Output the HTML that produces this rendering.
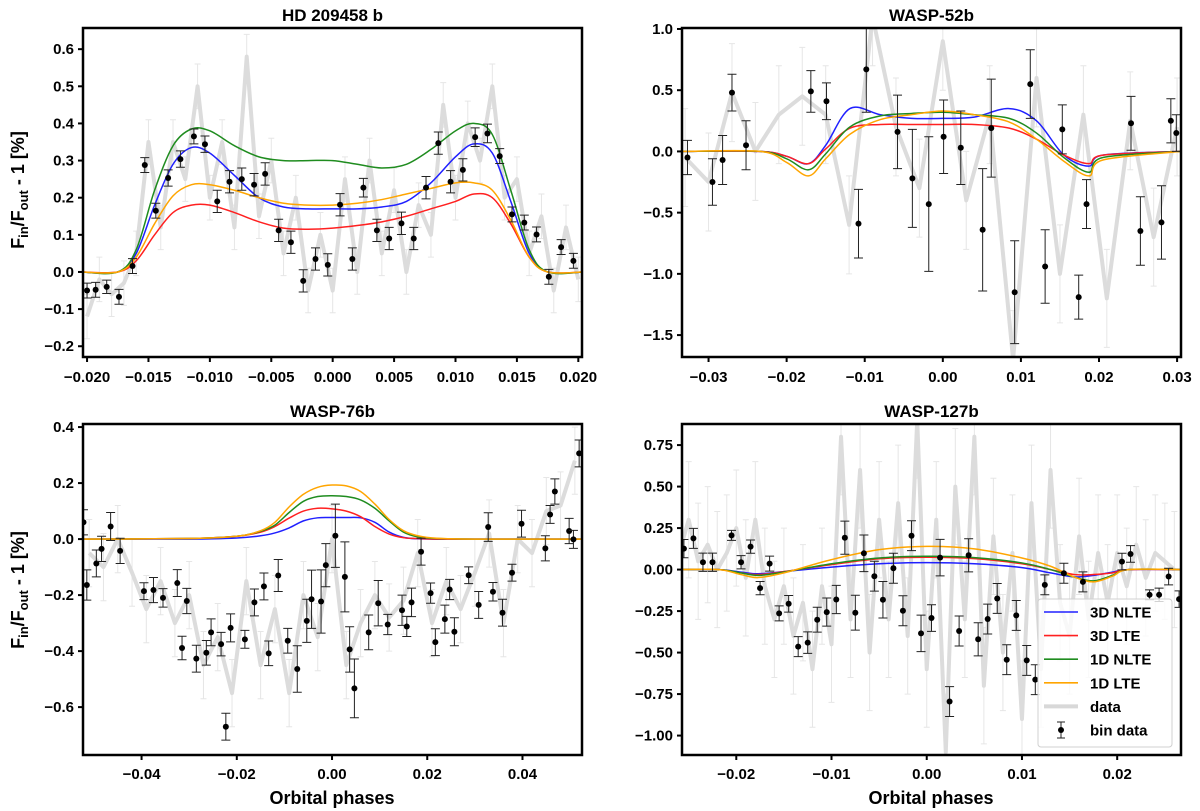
<!DOCTYPE html>
<html><head><meta charset="utf-8">
<style>
html,body{margin:0;padding:0;background:#fff;}
svg{display:block;font-family:"Liberation Sans","DejaVu Sans",sans-serif;}
</style></head>
<body>
<svg id="fig" width="1200" height="811" viewBox="0 0 1200 811" xmlns="http://www.w3.org/2000/svg"></svg>
<script>
// ---------- Panel 1: HD 209458 b ----------
const p1BinPhase=[-0.0200,-0.0193,-0.0184,-0.0174,-0.0163,-0.0153,-0.0144,-0.0134,-0.0124,-0.0113,-0.0104,-0.0094,-0.0084,-0.0074,-0.0064,-0.0055,-0.0044,-0.0034,-0.0024,-0.0014,-0.0004,0.0006,0.0016,0.0025,0.0036,0.0046,0.0056,0.0066,0.0076,0.0086,0.0096,0.0106,0.0116,0.0126,0.0136,0.0146,0.0156,0.0166,0.0176,0.0186,0.0196];
const p1BinVal=[-0.05,-0.048,-0.04,-0.067,0.016,0.288,0.165,0.253,0.304,0.365,0.344,0.19,0.243,0.25,0.235,0.264,0.112,0.08,-0.024,0.035,0.019,0.181,0.035,0.227,0.112,0.09,0.131,0.09,0.227,0.347,0.243,0.275,0.363,0.373,0.312,0.155,0.133,0.101,-0.013,0.067,0.03];
const p1BinErr=[0.02,0.02,0.018,0.02,0.02,0.02,0.02,0.022,0.022,0.02,0.022,0.03,0.03,0.03,0.03,0.03,0.03,0.03,0.03,0.03,0.03,0.03,0.03,0.025,0.03,0.03,0.03,0.03,0.03,0.03,0.03,0.03,0.025,0.025,0.02,0.02,0.02,0.02,0.02,0.02,0.02];
const p1GrayPhase=[-0.020,-0.019,-0.018,-0.017,-0.016,-0.015,-0.014,-0.013,-0.012,-0.011,-0.010,-0.009,-0.008,-0.007,-0.006,-0.005,-0.004,-0.003,-0.002,-0.001,0,0.001,0.002,0.003,0.004,0.005,0.006,0.007,0.008,0.009,0.010,0.011,0.012,0.013,0.014,0.015,0.016,0.017,0.018,0.019,0.020];
const p1GrayVal=[-0.12,-0.02,-0.06,-0.03,0.05,0.35,0.12,0.35,0.25,0.5,0.2,0.35,0.12,0.58,0.15,0.3,0.05,0.2,-0.05,0.1,-0.05,0.25,0.0,0.3,0.05,0.22,0.0,0.18,0.1,0.45,0.2,0.4,0.3,0.5,0.2,0.25,0.05,0.15,-0.05,0.12,-0.02];
const p1ModPhase=[-0.0205,-0.0175,-0.016,-0.0145,-0.013,-0.0115,-0.01,-0.008,-0.006,-0.004,-0.002,0,0.002,0.004,0.006,0.008,0.01,0.0115,0.013,0.0145,0.016,0.0175,0.0205];
const p1Green=[0,0,0.06,0.22,0.34,0.385,0.38,0.34,0.31,0.30,0.30,0.30,0.29,0.28,0.29,0.33,0.38,0.40,0.37,0.22,0.06,0,0];
const p1Blue=[0,0,0.05,0.18,0.29,0.335,0.32,0.26,0.2,0.175,0.17,0.17,0.17,0.175,0.19,0.24,0.31,0.345,0.32,0.19,0.05,0,0];
const p1Orange=[0,0,0.04,0.13,0.205,0.235,0.235,0.22,0.2,0.185,0.18,0.18,0.185,0.195,0.21,0.225,0.24,0.24,0.22,0.14,0.04,0,0];
const p1Red=[0,0,0.03,0.1,0.16,0.18,0.18,0.16,0.135,0.118,0.115,0.118,0.125,0.135,0.15,0.17,0.19,0.21,0.2,0.13,0.04,0,0];
const p1XTicks=[-0.020,-0.015,-0.010,-0.005,0.000,0.005,0.010,0.015,0.020];
const p1XLabels=["−0.020","−0.015","−0.010","−0.005","0.000","0.005","0.010","0.015","0.020"];
const p1YTicks=[-0.2,-0.1,0,0.1,0.2,0.3,0.4,0.5,0.6];
const p1YLabels=["−0.2","−0.1","0.0","0.1","0.2","0.3","0.4","0.5","0.6"];

// ---------- Panel 2: WASP-52b ----------
const p2BinPhase=[-0.0327,-0.0295,-0.0282,-0.0270,-0.0252,-0.0169,-0.0149,-0.0108,-0.0098,-0.0058,-0.0039,-0.0018,0.0001,0.0023,0.0051,0.0062,0.0092,0.0112,0.0131,0.0153,0.0174,0.0184,0.0241,0.0253,0.0280,0.0292,0.0299];
const p2BinVal=[-0.05,-0.25,-0.07,0.48,0.05,0.49,0.41,-0.59,0.67,0.16,-0.22,-0.43,0.12,0.03,-0.64,0.19,-1.15,0.55,-0.94,0.18,-1.19,-0.43,0.23,-0.65,-0.58,0.25,0.15];
const p2BinErr=[0.14,0.19,0.2,0.15,0.2,0.17,0.15,0.28,0.35,0.3,0.4,0.55,0.3,0.3,0.5,0.4,0.42,0.28,0.3,0.2,0.18,0.2,0.22,0.28,0.3,0.18,0.15];
const p2GrayPhase=[-0.033,-0.030,-0.027,-0.024,-0.021,-0.018,-0.015,-0.012,-0.009,-0.006,-0.003,0,0.003,0.006,0.009,0.012,0.015,0.018,0.021,0.024,0.027,0.030];
const p2GrayVal=[-0.05,-0.25,0.48,0.0,0.3,0.45,0.3,-0.6,1.1,0.2,-0.3,0.9,-0.4,0.3,-1.7,0.6,-1.0,0.3,-1.2,0.25,-0.7,0.2];
const p2ModPhase=[-0.0334,-0.0234,-0.020,-0.0172,-0.015,-0.0119,-0.008,-0.004,0,0.004,0.0085,0.012,0.0155,0.0187,0.0205,0.0305];
const p2Blue=[0,0,-0.04,-0.1,0.05,0.35,0.3,0.27,0.27,0.28,0.35,0.25,-0.03,-0.12,-0.03,0];
const p2Red=[0,0,-0.04,-0.1,0.02,0.19,0.22,0.22,0.22,0.22,0.19,0.1,-0.03,-0.1,-0.03,0];
const p2Green=[0,0,-0.06,-0.15,-0.02,0.2,0.29,0.31,0.32,0.3,0.27,0.15,-0.05,-0.17,-0.05,0];
const p2Orange=[0,0,-0.09,-0.2,-0.06,0.14,0.26,0.3,0.33,0.3,0.24,0.1,-0.08,-0.2,-0.07,0];
const p2XTicks=[-0.03,-0.02,-0.01,0,0.01,0.02,0.03];
const p2XLabels=["−0.03","−0.02","−0.01","0.00","0.01","0.02","0.03"];
const p2YTicks=[-1.5,-1.0,-0.5,0,0.5,1.0];
const p2YLabels=["−1.5","−1.0","−0.5","0.0","0.5","1.0"];

// ---------- Panel 3: WASP-76b ----------
const p3BinPhase=[-0.0522,-0.0515,-0.0495,-0.0484,-0.0465,-0.0445,-0.0395,-0.0375,-0.0355,-0.0325,-0.0315,-0.0305,-0.0285,-0.0264,-0.0254,-0.0233,-0.0223,-0.0213,-0.0183,-0.0163,-0.0143,-0.0133,-0.0113,-0.0093,-0.0073,-0.0053,-0.0043,-0.0023,-0.0013,0.0007,0.0027,0.0037,0.0047,0.0077,0.0097,0.0117,0.0147,0.0157,0.0167,0.0187,0.0207,0.0217,0.0237,0.0247,0.0257,0.0287,0.0308,0.0328,0.0338,0.0358,0.0378,0.0398,0.0448,0.0458,0.0468,0.0498,0.0507,0.0519];
const p3BinVal=[0.06,-0.164,-0.087,-0.035,0.045,-0.042,-0.186,-0.182,-0.21,-0.157,-0.389,-0.221,-0.427,-0.406,-0.333,-0.375,-0.67,-0.317,-0.358,-0.226,-0.169,-0.408,-0.13,-0.363,-0.464,-0.292,-0.215,-0.223,-0.093,0.012,-0.135,-0.394,-0.533,-0.333,-0.229,-0.305,-0.254,-0.312,-0.226,-0.045,-0.193,-0.368,-0.286,-0.18,-0.331,-0.129,-0.235,0.043,-0.188,-0.263,-0.12,0.055,-0.033,0.088,0.17,0.029,-0.001,0.306];
const p3BinErr=[0.045,0.054,0.048,0.045,0.05,0.045,0.03,0.045,0.033,0.048,0.042,0.045,0.048,0.044,0.048,0.042,0.048,0.05,0.032,0.048,0.048,0.044,0.057,0.044,0.083,0.077,0.104,0.113,0.077,0.113,0.125,0.081,0.105,0.062,0.081,0.036,0.054,0.036,0.051,0.048,0.036,0.048,0.05,0.036,0.05,0.03,0.048,0.051,0.033,0.048,0.03,0.048,0.045,0.032,0.045,0.045,0.032,0.048];
const p3GrayPhase=[-0.051,-0.048,-0.045,-0.042,-0.039,-0.036,-0.033,-0.030,-0.027,-0.024,-0.021,-0.018,-0.015,-0.012,-0.009,-0.006,-0.003,0,0.003,0.006,0.009,0.012,0.015,0.018,0.021,0.024,0.027,0.030,0.033,0.036,0.039,0.042,0.045,0.048,0.051];
const p3GrayVal=[-0.05,-0.1,0.0,-0.12,-0.25,-0.15,-0.3,-0.2,-0.45,-0.35,-0.55,-0.15,-0.45,-0.25,-0.55,-0.2,-0.35,0.0,-0.45,-0.3,-0.2,-0.28,-0.22,-0.05,-0.3,-0.15,-0.25,-0.12,0.02,-0.3,0.0,-0.05,0.1,0.12,0.28];
const p3ModPhase=[-0.053,-0.03,-0.02,-0.015,-0.012,-0.009,-0.006,-0.003,0,0.003,0.006,0.009,0.012,0.015,0.018,0.022,0.03,0.053];
const p3Orange=[0,0.002,0.01,0.03,0.06,0.115,0.16,0.185,0.193,0.19,0.17,0.125,0.07,0.03,0.012,0.003,0,0];
const p3Green=[0,0.002,0.01,0.028,0.05,0.095,0.135,0.152,0.155,0.152,0.14,0.11,0.065,0.025,0.008,0.002,0,0];
const p3Red=[0,0.002,0.01,0.025,0.045,0.075,0.1,0.11,0.108,0.1,0.08,0.045,0.018,0.005,0.002,0,0,0];
const p3Blue=[0,0,0.004,0.012,0.022,0.04,0.065,0.076,0.077,0.077,0.076,0.06,0.025,0.006,0.001,0,0,0];
const p3XTicks=[-0.04,-0.02,0,0.02,0.04];
const p3XLabels=["−0.04","−0.02","0.00","0.02","0.04"];
const p3YTicks=[-0.6,-0.4,-0.2,0,0.2,0.4];
const p3YLabels=["−0.6","−0.4","−0.2","0.0","0.2","0.4"];

// ---------- Panel 4: WASP-127b ----------
const p4BinPhase=[-0.0255,-0.0245,-0.0235,-0.0225,-0.0205,-0.0195,-0.0185,-0.0175,-0.0165,-0.0155,-0.0145,-0.0135,-0.0125,-0.0115,-0.0105,-0.0095,-0.0086,-0.0075,-0.0066,-0.0055,-0.0046,-0.0035,-0.0025,-0.0016,-0.0006,0.0005,0.0014,0.0024,0.0034,0.0044,0.0054,0.0064,0.0074,0.0084,0.0094,0.0105,0.0114,0.0124,0.0144,0.0164,0.0205,0.0214,0.0234,0.0244,0.0254,0.0265];
const p4BinVal=[0.126,0.188,0.044,0.044,0.206,0.044,0.138,-0.112,0.036,-0.264,-0.206,-0.464,-0.44,-0.302,-0.256,-0.18,0.192,-0.26,0.098,-0.04,-0.182,0.008,-0.248,0.204,-0.384,-0.292,0.072,-0.795,-0.37,0.086,-0.42,-0.298,-0.174,-0.543,-0.276,-0.547,-0.663,-0.092,-0.022,-0.074,0.048,0.094,-0.152,-0.152,-0.042,-0.178];
const p4BinErr=[0.055,0.06,0.055,0.055,0.03,0.04,0.04,0.04,0.045,0.045,0.05,0.06,0.065,0.075,0.085,0.085,0.1,0.105,0.11,0.09,0.11,0.09,0.09,0.09,0.11,0.08,0.11,0.09,0.09,0.1,0.1,0.09,0.09,0.09,0.09,0.09,0.09,0.06,0.06,0.06,0.05,0.05,0.03,0.04,0.05,0.05];
const p4GrayPhase=[-0.026,-0.025,-0.024,-0.023,-0.022,-0.021,-0.020,-0.019,-0.018,-0.017,-0.016,-0.015,-0.014,-0.013,-0.012,-0.011,-0.010,-0.009,-0.008,-0.007,-0.006,-0.005,-0.004,-0.003,-0.002,-0.001,0,0.001,0.002,0.003,0.004,0.005,0.006,0.007,0.008,0.009,0.010,0.011,0.012,0.013,0.014,0.015,0.016,0.017,0.018,0.019,0.020,0.021,0.022,0.023,0.024,0.025,0.026];
const p4GrayVal=[0.1,0.3,0.05,0.15,0.0,0.1,0.25,-0.05,0.3,-0.1,-0.3,-0.1,-0.4,-0.2,-0.6,-0.1,-0.45,0.8,-0.3,0.6,-0.5,0.3,-0.3,0.4,-0.4,0.9,-0.6,0.3,-1.1,0.5,-0.3,0.8,-0.7,0.2,-0.5,0.1,-0.9,0.4,-0.6,0.6,-0.2,-0.4,0.2,-0.3,0.1,-0.2,0.1,-0.1,0.15,-0.05,0.1,0.05,0.0];
const p4ModPhase=[-0.026,-0.0218,-0.0195,-0.0177,-0.015,-0.01,-0.005,0,0.005,0.01,0.013,0.0155,0.0175,0.0195,0.0212,0.027];
const p4Orange=[0,0,-0.03,-0.048,-0.02,0.06,0.12,0.14,0.125,0.07,0.02,-0.045,-0.074,-0.04,0,0];
const p4Green=[0,0,-0.02,-0.035,-0.015,0.035,0.07,0.08,0.072,0.04,0,-0.045,-0.068,-0.035,0,0];
const p4Red=[0,0,-0.02,-0.03,-0.012,0.03,0.065,0.074,0.066,0.035,0.0,-0.03,-0.03,-0.02,0,0];
const p4Blue=[0,0,-0.015,-0.025,-0.012,0.015,0.035,0.042,0.035,0.012,-0.02,-0.044,-0.035,-0.015,0,0];
const p4XTicks=[-0.02,-0.01,0,0.01,0.02];
const p4XLabels=["−0.02","−0.01","0.00","0.01","0.02"];
const p4YTicks=[-1.0,-0.75,-0.5,-0.25,0,0.25,0.5,0.75];
const p4YLabels=["−1.00","−0.75","−0.50","−0.25","0.00","0.25","0.50","0.75"];

const legendLabels=["3D NLTE","3D LTE","1D NLTE","1D LTE","data","bin data"];

const NS="http://www.w3.org/2000/svg";
const fig=document.getElementById('fig');
function mk(tag,attrs,parent){const e=document.createElementNS(NS,tag);for(const k in attrs)e.setAttribute(k,attrs[k]);(parent||fig).appendChild(e);return e;}
function smoothPath(pts){
  let d="M"+pts[0][0].toFixed(2)+","+pts[0][1].toFixed(2);
  for(let i=0;i<pts.length-1;i++){
    const p0=pts[Math.max(0,i-1)],p1=pts[i],p2=pts[i+1],p3=pts[Math.min(pts.length-1,i+2)];
    const c1x=p1[0]+(p2[0]-p0[0])/6,c1y=p1[1]+(p2[1]-p0[1])/6;
    const c2x=p2[0]-(p3[0]-p1[0])/6,c2y=p2[1]-(p3[1]-p1[1])/6;
    d+=" C"+c1x.toFixed(2)+","+c1y.toFixed(2)+" "+c2x.toFixed(2)+","+c2y.toFixed(2)+" "+p2[0].toFixed(2)+","+p2[1].toFixed(2);
  }
  return d;
}

function drawPanel(c){
  const xs=v=>c.x0+(v-c.xmin)/(c.xmax-c.xmin)*(c.x1-c.x0);
  const ys=v=>c.y1-(v-c.ymin)/(c.ymax-c.ymin)*(c.y1-c.y0);
  const g=mk('g',{});
  
  
  const cp=mk('clipPath',{id:'clip-'+c.name},g);
  mk('rect',{x:c.x0,y:c.y0,width:c.x1-c.x0,height:c.y1-c.y0},cp);
  const plot=mk('g',{'clip-path':'url(#clip-'+c.name+')'},g);
  const gd=mk('g',{},plot);
  
  
  c.grayP.forEach((p,i)=>{
    const x=xs(p),ya=ys(c.grayV[i]+c.grayErr),yb=ys(c.grayV[i]-c.grayErr);
    const eb=mk('path',{d:`M${x},${ya}V${yb}M${x-3},${ya}h6M${x-3},${yb}h6`,stroke:'#e6e6e6','stroke-width':1,fill:'none'},gd);
    
    
  });
  const gl=mk('polyline',{points:c.grayP.map((p,i)=>xs(p)+','+ys(c.grayV[i])).join(' '),fill:'none',stroke:'#dcdcdc','stroke-width':4,'stroke-linejoin':'round'},gd);
  
  
  const models=[[c.blue,'#2020ff','model-3d-nlte'],[c.red,'#ff2020','model-3d-lte'],[c.green,'#1f8c1f','model-1d-nlte'],[c.orange,'#ffa500','model-1d-lte']];
  models.forEach(m=>{
    const pts=c.modP.map((p,i)=>[xs(p),ys(m[0][i])]);
    const path=mk('path',{d:smoothPath(pts),fill:'none',stroke:m[1],'stroke-width':1.5},plot);
    
    
  });
  const bd=mk('g',{},plot);
  
  
  c.binP.forEach((p,i)=>{
    const x=xs(p),y=ys(c.binV[i]),ya=ys(c.binV[i]+c.binE[i]),yb=ys(c.binV[i]-c.binE[i]);
    const eb=mk('path',{d:`M${x},${ya}V${yb}M${x-4.5},${ya}h9M${x-4.5},${yb}h9`,stroke:'#222','stroke-width':1,fill:'none'},bd);
    
    
    const pt=mk('circle',{cx:x,cy:y,r:3,fill:'#000'},bd);
    
    
  });
  const fr=mk('rect',{x:c.x0,y:c.y0,width:c.x1-c.x0,height:c.y1-c.y0,fill:'none',stroke:'#000','stroke-width':2.5},g);
  
  
  c.xt.forEach((t,i)=>{
    const x=xs(t);
    mk('line',{x1:x,x2:x,y1:c.y1,y2:c.y1+5,stroke:'#000','stroke-width':2},g);
    const tx=mk('text',{x:x,y:c.y1+c.xlOff,'text-anchor':'middle','font-size':15,'font-weight':'bold'},g);
    tx.textContent=c.xl[i];
    
    
  });
  c.yt.forEach((t,i)=>{
    const y=ys(t);
    mk('line',{x1:c.x0-5,x2:c.x0,y1:y,y2:y,stroke:'#000','stroke-width':2},g);
    const tx=mk('text',{x:c.x0-9,y:y+5,'text-anchor':'end','font-size':15,'font-weight':'bold'},g);
    tx.textContent=c.yl[i];
    
    
  });
  const ti=mk('text',{x:(c.x0+c.x1)/2,y:c.y0-7,'text-anchor':'middle','font-size':17,'font-weight':'bold'},g);
  ti.textContent=c.title;
  
  
}

drawPanel({name:'hd209458b',title:'HD 209458 b',x0:83,x1:582,y0:28,y1:357,xlOff:25,xmin:-0.02033,xmax:0.0203,ymin:-0.229,ymax:0.657,
  binP:p1BinPhase,binV:p1BinVal,binE:p1BinErr,grayP:p1GrayPhase,grayV:p1GrayVal,grayErr:0.06,
  modP:p1ModPhase,blue:p1Blue,red:p1Red,green:p1Green,orange:p1Orange,xt:p1XTicks,xl:p1XLabels,yt:p1YTicks,yl:p1YLabels});
drawPanel({name:'wasp52b',title:'WASP-52b',x0:682,x1:1181,y0:28,y1:357,xlOff:25,xmin:-0.0334,xmax:0.0305,ymin:-1.679,ymax:1.008,
  binP:p2BinPhase,binV:p2BinVal,binE:p2BinErr,grayP:p2GrayPhase,grayV:p2GrayVal,grayErr:0.4,
  modP:p2ModPhase,blue:p2Blue,red:p2Red,green:p2Green,orange:p2Orange,xt:p2XTicks,xl:p2XLabels,yt:p2YTicks,yl:p2YLabels});
drawPanel({name:'wasp76b',title:'WASP-76b',x0:83,x1:582,y0:424,y1:755,xlOff:24,xmin:-0.0523,xmax:0.0525,ymin:-0.771,ymax:0.411,
  binP:p3BinPhase,binV:p3BinVal,binE:p3BinErr,grayP:p3GrayPhase,grayV:p3GrayVal,grayErr:0.12,
  modP:p3ModPhase,blue:p3Blue,red:p3Red,green:p3Green,orange:p3Orange,xt:p3XTicks,xl:p3XLabels,yt:p3YTicks,yl:p3YLabels});
drawPanel({name:'wasp127b',title:'WASP-127b',x0:682,x1:1181,y0:424,y1:755,xlOff:24,xmin:-0.0257,xmax:0.0267,ymin:-1.117,ymax:0.877,
  binP:p4BinPhase,binV:p4BinVal,binE:p4BinErr,grayP:p4GrayPhase,grayV:p4GrayVal,grayErr:0.35,
  modP:p4ModPhase,blue:p4Blue,red:p4Red,green:p4Green,orange:p4Orange,xt:p4XTicks,xl:p4XLabels,yt:p4YTicks,yl:p4YLabels});

function yLabel(cy,name){
  const t=mk('text',{transform:`translate(24,${cy}) rotate(-90)`,'text-anchor':'middle','font-size':18,'font-weight':'bold'});
  t.innerHTML='F<tspan font-size="13" dy="4">in</tspan><tspan dy="-4">/F</tspan><tspan font-size="13" dy="4">out</tspan><tspan dy="-4"> - 1 [%]</tspan>';
  
  
}
yLabel(190,'y-axis-title-top');
yLabel(590,'y-axis-title-bottom');
[[332,'x-axis-title-left'],[931,'x-axis-title-right']].forEach(a=>{
  const t=mk('text',{x:a[0],y:804,'text-anchor':'middle','font-size':18,'font-weight':'bold'});
  t.textContent='Orbital phases';
  
  
});

const lg=mk('g',{});


mk('rect',{x:1038,y:599,width:134,height:148,rx:3,fill:'rgba(255,255,255,0.8)',stroke:'#d0d0d0','stroke-width':1},lg);
const legColors=['#2020ff','#ff2020','#1f8c1f','#ffa500','#d8d8d8','#000'];
legendLabels.forEach((lab,i)=>{
  const y=612+i*23.6;
  const e=mk('g',{},lg);
  
  
  if(i<5){
    mk('line',{x1:1044,x2:1078,y1:y,y2:y,stroke:legColors[i],'stroke-width':i==4?4:1.6},e);
  }else{
    mk('path',{d:`M1061,${y-8}V${y+8}M1057,${y-8}h8M1057,${y+8}h8`,stroke:'#222','stroke-width':1,fill:'none'},e);
    mk('circle',{cx:1061,cy:y,r:3,fill:'#000'},e);
  }
  const t=mk('text',{x:1090,y:y+5.5,'font-size':15,'font-weight':'bold'},e);
  t.textContent=lab;
});
</script>
</body></html>
